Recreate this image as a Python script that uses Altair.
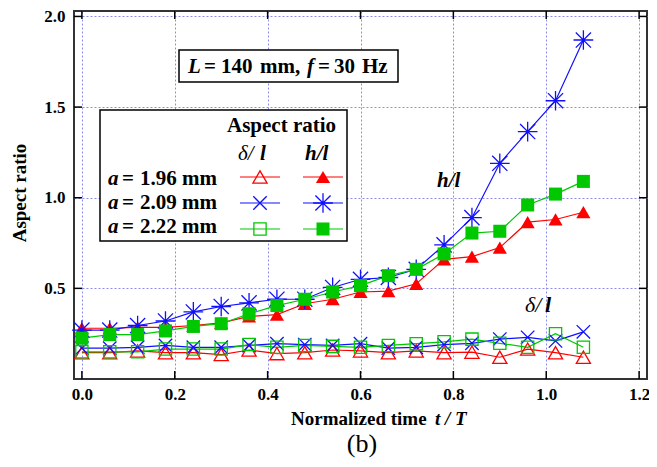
import altair as alt
import pandas as pd

# ---------------- data ----------------
t = [0.00, 0.06, 0.12, 0.18, 0.24, 0.30, 0.36, 0.42, 0.48, 0.54,
     0.60, 0.66, 0.72, 0.78, 0.84, 0.90, 0.96, 1.02, 1.08]

h_196 = [0.28, 0.28, 0.285, 0.285, 0.295, 0.31, 0.345, 0.355, 0.415, 0.44,
         0.48, 0.485, 0.525, 0.66, 0.675, 0.725, 0.865, 0.88, 0.92]
h_209 = [0.27, 0.27, 0.295, 0.32, 0.37, 0.40, 0.42, 0.44, 0.44, 0.505,
         0.55, 0.56, 0.605, 0.74, 0.89, 1.19, 1.365, 1.535, 1.87]
h_222 = [0.225, 0.245, 0.245, 0.265, 0.29, 0.305, 0.36, 0.405, 0.44, 0.48,
         0.515, 0.57, 0.605, 0.69, 0.805, 0.815, 0.96, 1.02, 1.09]
d_196 = [0.145, 0.145, 0.155, 0.145, 0.145, 0.135, 0.16, 0.14, 0.145, 0.16,
         0.155, 0.145, 0.155, 0.145, 0.148, 0.12, 0.165, 0.145, 0.12]
d_209 = [0.17, 0.17, 0.175, 0.185, 0.175, 0.175, 0.185, 0.195, 0.19, 0.185,
         0.195, 0.17, 0.175, 0.19, 0.197, 0.22, 0.23, 0.21, 0.26]
d_222 = [0.15, 0.15, 0.15, 0.165, 0.165, 0.165, 0.19, 0.175, 0.185, 0.18,
         0.175, 0.185, 0.195, 0.205, 0.22, 0.197, 0.175, 0.25, 0.175]

series_names = ["d196", "d209", "d222", "h196", "h209", "h222"]
series_vals = [d_196, d_209, d_222, h_196, h_209, h_222]
series_colors = ["#ff0000", "#1010ff", "#00c800", "#ff0000", "#1010ff", "#00c800"]

x_ticks = [0.0, 0.2, 0.4, 0.6, 0.8, 1.0, 1.2]
y_ticks = [0.5, 1.0, 1.5, 2.0]

legend_values = ["1.96", "2.09", "2.22"]

# ---------------- layout ----------------
W, H = 573, 368
FONT = "Liberation Serif"
X_SHAPE = "M-1,-1L1,1M-1,1L1,-1"
STAR_SHAPE = "M-1,-1L1,1M-1,1L1,-1M0,-1.3L0,1.3M-1.3,0L1.3,0"

marker_style = {
    "d196": dict(shape="triangle-up", filled=False, size=200),
    "d209": dict(shape=X_SHAPE, filled=False, size=180),
    "d222": dict(shape="square", filled=False, size=150),
    "h196": dict(shape="triangle-up", filled=True, size=200),
    "h209": dict(shape=STAR_SHAPE, filled=False, size=230),
    "h222": dict(shape="square", filled=True, size=170),
}

rows = []
for name, vals in zip(series_names, series_vals):
    for tt, v in zip(t, vals):
        rows.append({"t": tt, "v": v, "s": name})
df = pd.DataFrame(rows)

xs = alt.Scale(domain=[-0.017, 1.217], nice=False, zero=False)
ys = alt.Scale(domain=[0.0, 2.03], nice=False, zero=False)

grid_common = dict(grid=True, gridColor="#8c8cf0", gridDash=[2, 2], gridWidth=1,
                   ticks=False, domain=False, labelFont=FONT, labelFontSize=17,
                   labelFontWeight="bold", labelColor="black", title=None,
                   format=".1f")
xaxis = alt.Axis(values=x_ticks, labelPadding=7, **grid_common)
yaxis = alt.Axis(values=y_ticks, labelPadding=9, **grid_common)

X = alt.X("t:Q", scale=xs, axis=xaxis)
Y = alt.Y("v:Q", scale=ys, axis=yaxis)

lines = alt.Chart(df).mark_line(strokeWidth=1.2).encode(
    x=X, y=Y,
    color=alt.Color("s:N", scale=alt.Scale(domain=series_names, range=series_colors), legend=None),
    detail="s:N",
)

layers = [lines]
for name, col in zip(series_names, series_colors):
    st = marker_style[name]
    layers.append(
        alt.Chart(df).transform_filter(alt.datum.s == name).mark_point(
            shape=st["shape"], filled=st["filled"], size=st["size"],
            color=col, opacity=1, strokeWidth=1.3,
        ).encode(x=X, y=Y)
    )

one = pd.DataFrame({"k": [0]})

# info boxes
def box(x1, y1, x2, y2):
    return alt.Chart(one).mark_rect(fill="white", stroke="black", strokeWidth=1.5).encode(
        x=alt.value(x1), x2=alt.value(x2), y=alt.value(y1), y2=alt.value(y2))

layers.append(box(105, 39, 324, 71))
layers.append(box(26, 99, 273, 230))

# legend samples
leg_rows_y = [166, 192, 218]
leg_cols = [(166, 206, 186), (229, 269, 249)]
for ci, (xa, xb, xm) in enumerate(leg_cols):
    for ri, yy in enumerate(leg_rows_y):
        name = series_names[ci * 3 + ri]
        col = series_colors[ci * 3 + ri]
        st = marker_style[name]
        layers.append(alt.Chart(one).mark_rule(color=col, strokeWidth=1.2).encode(
            x=alt.value(xa), x2=alt.value(xb), y=alt.value(yy)))
        layers.append(alt.Chart(one).mark_point(
            shape=st["shape"], filled=st["filled"], size=st["size"],
            color=col, opacity=1, strokeWidth=1.3).encode(
            x=alt.value(xm), y=alt.value(yy)))

# text pieces: (text, x, y, size, weight, style, align, angle)
B, I, N = "bold", "italic", "normal"
texts = [
    ("L", 114, 62, 21, B, I, "left", 0),
    ("=", 130, 62, 21, B, N, "left", 0),
    ("140", 147, 62, 21, B, N, "left", 0),
    ("mm,", 186, 62, 21, B, N, "left", 0),
    ("f", 233, 62, 21, B, I, "left", 0),
    ("=", 244, 62, 21, B, N, "left", 0),
    ("30", 260, 62, 21, B, N, "left", 0),
    ("Hz", 288, 62, 21, B, N, "left", 0),
    ("Aspect ratio", 153, 121, 21, B, N, "left", 0),
    ("δ/", 164, 149, 21, N, I, "left", 0),
    ("l", 186, 149, 21, B, I, "left", 0),
    ("h/l", 231, 149, 21, B, I, "left", 0),
    ("h/l", 363, 176, 21, B, I, "left", 0),
    ("δ/", 451, 301, 22, N, I, "left", 0),
    ("l", 471, 301, 22, B, I, "left", 0),
    ("Normalized time", 217, 414, 19, B, N, "left", 0),
    ("t / T", 361, 414, 19, B, I, "left", 0),
    ("(b)", 288, 441, 26, N, N, "center", 0),
    ("Aspect ratio", -48, 182, 19, B, N, "center", 270),
]
for ri, val in enumerate(legend_values):
    yy = [174, 198, 222][ri]
    texts.append(("a", 34, yy, 21, B, I, "left", 0))
    texts.append(("=", 48, yy, 21, B, N, "left", 0))
    texts.append((val, 66, yy, 21, B, N, "left", 0))
    texts.append(("mm", 108, yy, 21, B, N, "left", 0))

for (tx, px, py, sz, wt, sty, al, ang) in texts:
    layers.append(alt.Chart(one).mark_text(
        font=FONT, fontSize=sz, fontWeight=wt, fontStyle=sty, align=al,
        baseline="alphabetic", color="black", angle=ang).encode(
        x=alt.value(px), y=alt.value(py), text=alt.value(tx)))

# inward ticks on all four sides
xt = pd.DataFrame({"t": x_ticks})
yt = pd.DataFrame({"v": y_ticks})
layers.append(alt.Chart(xt).mark_rule(color="black", strokeWidth=1.5).encode(
    x=X, y=alt.value(H), y2=alt.value(H - 8)))
layers.append(alt.Chart(xt).mark_rule(color="black", strokeWidth=1.5).encode(
    x=X, y=alt.value(0), y2=alt.value(8)))
layers.append(alt.Chart(yt).mark_rule(color="black", strokeWidth=1.5).encode(
    y=Y, x=alt.value(0), x2=alt.value(8)))
layers.append(alt.Chart(yt).mark_rule(color="black", strokeWidth=1.5).encode(
    y=Y, x=alt.value(W - 8), x2=alt.value(W)))

chart = alt.layer(*layers).properties(
    width=W, height=H,
    autosize=alt.AutoSizeParams(type="none"),
    padding={"left": 66, "top": 3, "right": 2, "bottom": 80},
).configure_view(stroke="#333333", strokeWidth=2)

chart.save("out.html", embed_options={"renderer": "svg", "actions": False})
